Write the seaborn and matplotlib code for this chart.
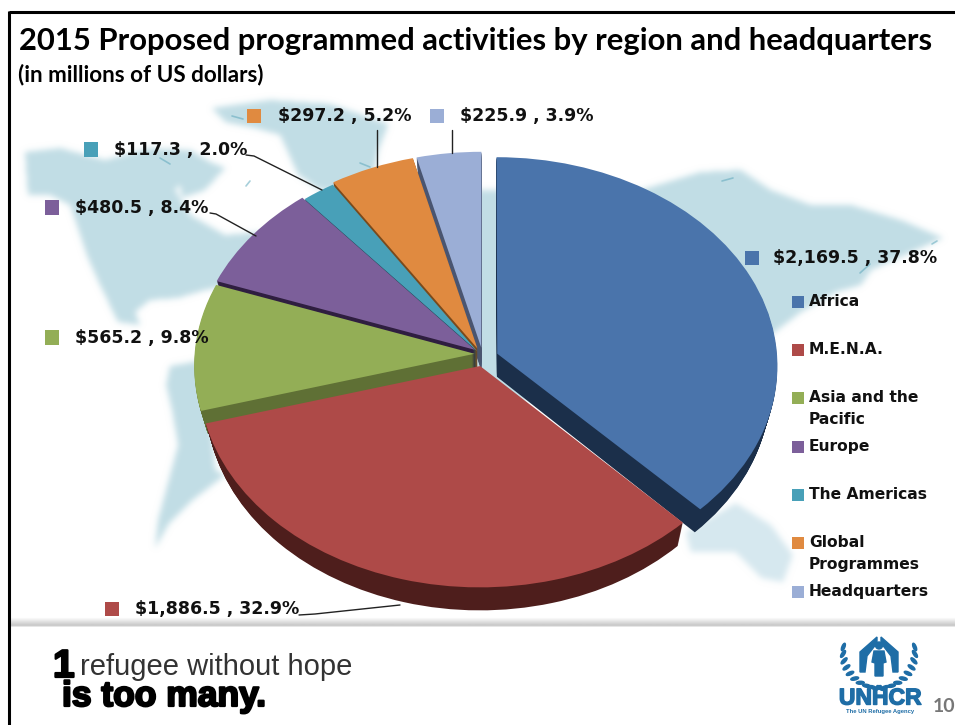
import numpy as np
import pandas as pd
import seaborn as sns
import matplotlib
matplotlib.use("Agg")
import matplotlib.pyplot as plt
from matplotlib.patches import Polygon, Circle, Ellipse
from matplotlib.path import Path
from matplotlib.transforms import Transform
import matplotlib.patheffects as pe

# ---- chart data -------------------------------------------------------
regions = ["Africa", "M.E.N.A.", "Asia and the\nPacific", "Europe",
           "The Americas", "Global\nProgrammes", "Headquarters"]
amounts = [2169.5, 1886.5, 565.2, 480.5, 117.3, 297.2, 225.9]
shares = [37.8, 32.9, 9.8, 8.4, 2.0, 5.2, 3.9]

# ---- styling ----------------------------------------------------------
top_colors = ["#4A74AB", "#AE4A48", "#93AE56", "#7C5F9A", "#48A0B8", "#E08A40", "#9BAED6"]
side_colors = ["#1B2F4A", "#4E1E1C", "#5F7035", "#2F1E40", "#1D4A58", "#7A4A1C", "#4A5570"]
explode = [0.055, 0.04, 0.03, 0.035, 0.035, 0.05, 0.05]
slice_raise = [0, 0, 4, 4, 1, 0, 0]
paint_order = [6, 5, 4, 3, 0, 2, 1]

sns.set_theme(style="white")
plt.rcParams["font.family"] = ["DejaVu Sans"]

W, H = 955, 725
fig = plt.figure(figsize=(W / 100, H / 100), dpi=100, facecolor="white")
ax = fig.add_axes([0, 0, 1, 1])


class TiltedDisk(Transform):
    """Projects the unit pie onto a tilted plane, dropped by `lift` of its depth."""
    input_dims = output_dims = 2
    has_inverse = False
    is_separable = False

    def __init__(self, lift=0.0, rise=0.0):
        super().__init__()
        self.lift = lift
        self.rise = rise

    def transform_non_affine(self, xy):
        xy = np.asarray(xy, dtype=float)
        u, v = xy[:, 0], xy[:, 1]
        w = 1 + 0.056 * v
        x = 280 * u / w * (1 - 0.025 * self.lift) + 483
        y = 358 - 208 * v / w + 23 * self.lift - self.rise
        return np.column_stack([x, y])


def pie_layer(colors, lift, base_z):
    wedges, _ = ax.pie(amounts, explode=explode, startangle=90, counterclock=False,
                       colors=colors, radius=1, wedgeprops={"linewidth": 0})
    for i, wedge in enumerate(wedges):
        wedge.set_transform(TiltedDisk(lift, slice_raise[i]) + ax.transData)
        wedge.set_zorder(base_z + 2 * paint_order.index(i))
    return wedges


# ---- soft world map behind the pie --------------------------------------
land = [
    [(25, 152), (60, 148), (105, 160), (150, 148), (190, 150), (215, 165), (190, 172),
     (175, 190), (190, 215), (225, 235), (262, 232), (300, 250), (230, 285), (205, 290),
     (178, 298), (150, 300), (135, 312), (140, 325), (118, 322), (100, 285), (88, 258),
     (70, 205), (50, 195), (28, 195)],
    [(212, 108), (270, 100), (330, 104), (388, 124), (378, 150), (370, 190), (320, 190),
     (298, 175), (280, 135), (255, 128), (225, 122)],
    [(178, 172), (205, 160), (225, 168), (205, 190), (182, 198)],
    [(170, 366), (205, 360), (215, 470), (225, 475), (190, 502), (168, 525), (155, 548),
     (158, 520), (178, 445), (172, 410), (166, 385)],
    [(340, 190), (490, 190), (640, 190), (700, 172), (740, 170), (770, 190), (810, 205),
     (850, 205), (900, 220), (942, 238), (915, 250), (870, 270), (860, 285), (835, 292),
     (800, 312), (770, 335), (600, 400), (490, 400), (420, 300)],
]
oceania = [[(685, 532), (735, 503), (770, 525), (792, 555), (782, 582), (760, 578),
            (735, 552), (690, 552)]]


def soft_mask(polys, passes=24):
    gx, gy = np.meshgrid(np.arange(W) + 0.5, np.arange(H) + 0.5)
    pts = np.column_stack([gx.ravel(), gy.ravel()])
    mask = np.zeros(H * W)
    for poly in polys:
        mask = np.maximum(mask, Path(poly).contains_points(pts).astype(float))
    mask = mask.reshape(H, W)
    for _ in range(passes):
        mask = (mask + np.roll(mask, 1, 0) + np.roll(mask, -1, 0)
                + np.roll(mask, 1, 1) + np.roll(mask, -1, 1)) / 5
    return mask


for polys, tone in ((land, (0.76, 0.87, 0.90)), (oceania, (0.84, 0.91, 0.94))):
    rgba = np.zeros((H, W, 4))
    rgba[..., :3] = tone
    rgba[..., 3] = soft_mask(polys)
    ax.imshow(rgba, extent=(0, W, H, 0), aspect="auto", zorder=1)

# darker coastline flecks on the map
coast = [[(232, 116), (243, 119)], [(252, 110), (260, 118)], [(160, 158), (170, 164)],
         [(360, 163), (370, 167)], [(932, 244), (937, 241)], [(860, 273), (870, 264)],
         [(722, 181), (733, 178)], [(246, 186), (250, 181)]]
for seg in coast:
    xs, ys = zip(*seg)
    ax.plot(xs, ys, color="#5FA8BC", lw=1.2, alpha=0.55, zorder=1.5, solid_capstyle="round")

# ---- extruded pie ---------------------------------------------------------
for lift in np.linspace(1, 0, 24)[:-1]:
    pie_layer(side_colors, lift, 10)
pie_layer(top_colors, 0.0, 11)

# ---- value labels with their swatches ------------------------------------
label_x = [773, 135, 75, 75, 114, 278, 460]
label_y = [258, 609, 337.5, 207.5, 149.5, 116, 116]
swatch_x = [752, 112, 52, 52, 91, 254, 437]
swatch_df = pd.DataFrame({"region": regions, "x": swatch_x, "y": label_y})
palette = dict(zip(regions, top_colors))
sns.scatterplot(data=swatch_df, x="x", y="y", hue="region", palette=palette, marker="s",
                s=105, linewidth=0, legend=False, ax=ax, zorder=40)
for x, y, amount, share in zip(label_x, label_y, amounts, shares):
    ax.text(x, y, f"${amount:,.1f} , {share:.1f}%", fontsize=12.5, fontweight="bold",
            color="#111111", va="center", ha="left", zorder=41)

# leader lines from labels to slices
leaders = [[(299, 615), (315, 614), (400, 605)], [(210, 213), (216, 214), (256, 236)],
           [(246, 155), (254, 156), (322, 190)], [(377, 130), (377, 167)],
           [(452, 130), (452, 153)]]
for seg in leaders:
    xs, ys = zip(*seg)
    ax.plot(xs, ys, color="#222222", lw=1.0, zorder=39)

# ---- legend column --------------------------------------------------------
legend_y = [302, 350, 398, 447, 495, 543, 592]
legend_df = pd.DataFrame({"region": regions, "x": [798] * 7, "y": legend_y})
sns.scatterplot(data=legend_df, x="x", y="y", hue="region", palette=palette, marker="s",
                s=72, linewidth=0, legend=False, ax=ax, zorder=40)
for name, y in zip(regions, legend_y):
    ax.text(809, y - 8, name, fontsize=11.15, fontweight="bold", color="#111111",
            va="top", ha="left", linespacing=1.58, zorder=41)

# ---- headline ---------------------------------------------------------------
ax.text(19, 41, "2015 Proposed programmed activities by region and headquarters",
        fontsize=22.3, fontweight="bold", family="Lato", va="center", ha="left", color="black", zorder=50)
ax.text(18, 75, "(in millions of US dollars)", fontsize=16.2, fontweight="bold", family="Lato",
        va="center", ha="left", color="black", zorder=50)

# ---- slide frame ------------------------------------------------------------
ax.plot([9, W], [11.5, 11.5], color="black", lw=2.2, zorder=60, solid_capstyle="butt")
ax.plot([8.5, 8.5], [11, H], color="black", lw=2.2, zorder=60, solid_capstyle="butt")
band = np.linspace(1.0, 0.80, 8)[:, None]
ax.imshow(band, extent=(10, W, 625, 617), cmap="gray", vmin=0, vmax=1, aspect="auto", zorder=5)
ax.imshow(np.linspace(0.80, 1.0, 3)[:, None], extent=(10, W, 628, 625), cmap="gray", vmin=0, vmax=1,
          aspect="auto", zorder=5)

# ---- footer slogan ----------------------------------------------------------
ax.text(53, 677, "1", fontsize=28, fontweight="bold", family="Liberation Sans", va="baseline",
        color="black", path_effects=[pe.withStroke(linewidth=1.6, foreground="black")], zorder=50)
ax.text(80, 675, "refugee without hope", fontsize=21, family="Liberation Sans", va="baseline",
        color="#333333", zorder=50)
ax.text(62, 706, "is too many.", fontsize=25.5, fontweight="bold", family="Liberation Sans",
        va="baseline", color="black", path_effects=[pe.withStroke(linewidth=1.6, foreground="black")], zorder=50)

# ---- agency emblem ----------------------------------------------------------
emblem = "#1E6DA6"
ax.add_patch(Circle((879, 645.5), 3.5, color=emblem, zorder=50))
ax.add_patch(Polygon([(874, 651), (884, 651), (886, 662), (883, 663), (883, 676), (875, 676),
                      (875, 663), (872, 662)], color=emblem, zorder=50))
for sign in (-1, 1):
    ax.add_patch(Polygon([(879 + sign * 2, 637), (879 + sign * 19, 652), (879 + sign * 19, 672),
                          (879 + sign * 14, 672), (879 + sign * 12, 656), (879 + sign * 2, 643)],
                         color=emblem, zorder=50))
    for ang in np.linspace(172, 272, 10):
        rad = np.radians(ang)
        ex = 879 + sign * 36 * np.cos(rad)
        ey = 652 - 36 * np.sin(rad)
        ax.add_patch(Ellipse((ex, ey), 3.0, 8, angle=sign * (ang - 150), color=emblem, zorder=50))
ax.text(880, 698, "UNHCR", fontsize=16.5, fontweight="bold", family="Liberation Sans", color=emblem,
        ha="center", va="center", path_effects=[pe.withStroke(linewidth=1.0, foreground=emblem)], zorder=50)
ax.text(880, 712, "The UN Refugee Agency", fontsize=4.2, fontweight="bold", family="Liberation Sans",
        color=emblem, ha="center", va="center", zorder=50)
ax.text(933, 707, "10", fontsize=14, fontweight="bold", family="Lato", color="#777777",
        ha="left", va="center", zorder=50)

ax.set_aspect("auto")
ax.set_xlim(0, W)
ax.set_ylim(H, 0)
ax.set_axis_off()
fig.savefig("out.png", dpi=100, facecolor="white")
